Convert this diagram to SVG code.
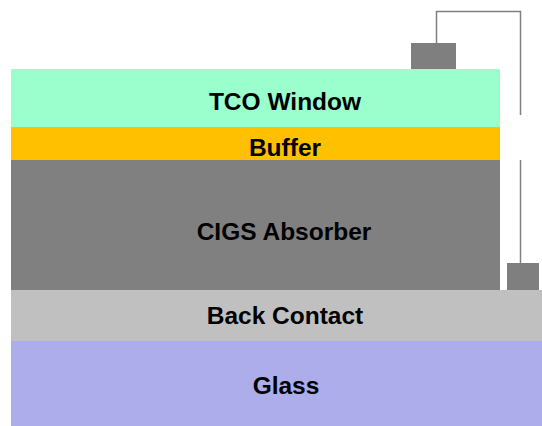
<svg xmlns="http://www.w3.org/2000/svg" width="542" height="426" viewBox="0 0 542 426">
<style>
.lbl{font-family:"Liberation Sans",Arial,sans-serif;font-weight:bold;font-size:24.5px;fill:#000;text-anchor:middle}
.wire{fill:none;stroke:#808080;stroke-width:1.5}
.pad{fill:#7f7f7f}
</style>
<rect width="542" height="426" fill="#fff"/>
<g id="glass"><rect x="11" y="341" width="531" height="85" fill="#ADADEB"/><text class="lbl" x="286" y="394">Glass</text></g>
<g id="back-contact"><rect x="11" y="290" width="531" height="51" fill="#C0C0C0"/><text class="lbl" x="285" y="324">Back Contact</text></g>
<g id="cigs"><rect x="11" y="160" width="489" height="130" fill="#808080"/><text class="lbl" x="284" y="240">CIGS Absorber</text></g>
<g id="buffer"><rect x="11" y="127" width="489" height="33" fill="#FFC000"/><text class="lbl" x="285" y="156">Buffer</text></g>
<g id="tco"><rect x="11" y="69" width="489" height="58" fill="#9AFFCC"/><text class="lbl" x="285" y="110">TCO Window</text></g>
<g id="top-pad"><rect class="pad" x="411" y="43" width="45" height="26"/></g>
<g id="bottom-pad"><rect class="pad" x="507" y="263" width="32" height="27"/></g>
<g id="connectors">
<polyline class="wire" points="436.5,43 436.5,11.5 520.5,11.5 520.5,115"/>
<line class="wire" x1="520.5" y1="160" x2="520.5" y2="263"/>
</g>
</svg>
